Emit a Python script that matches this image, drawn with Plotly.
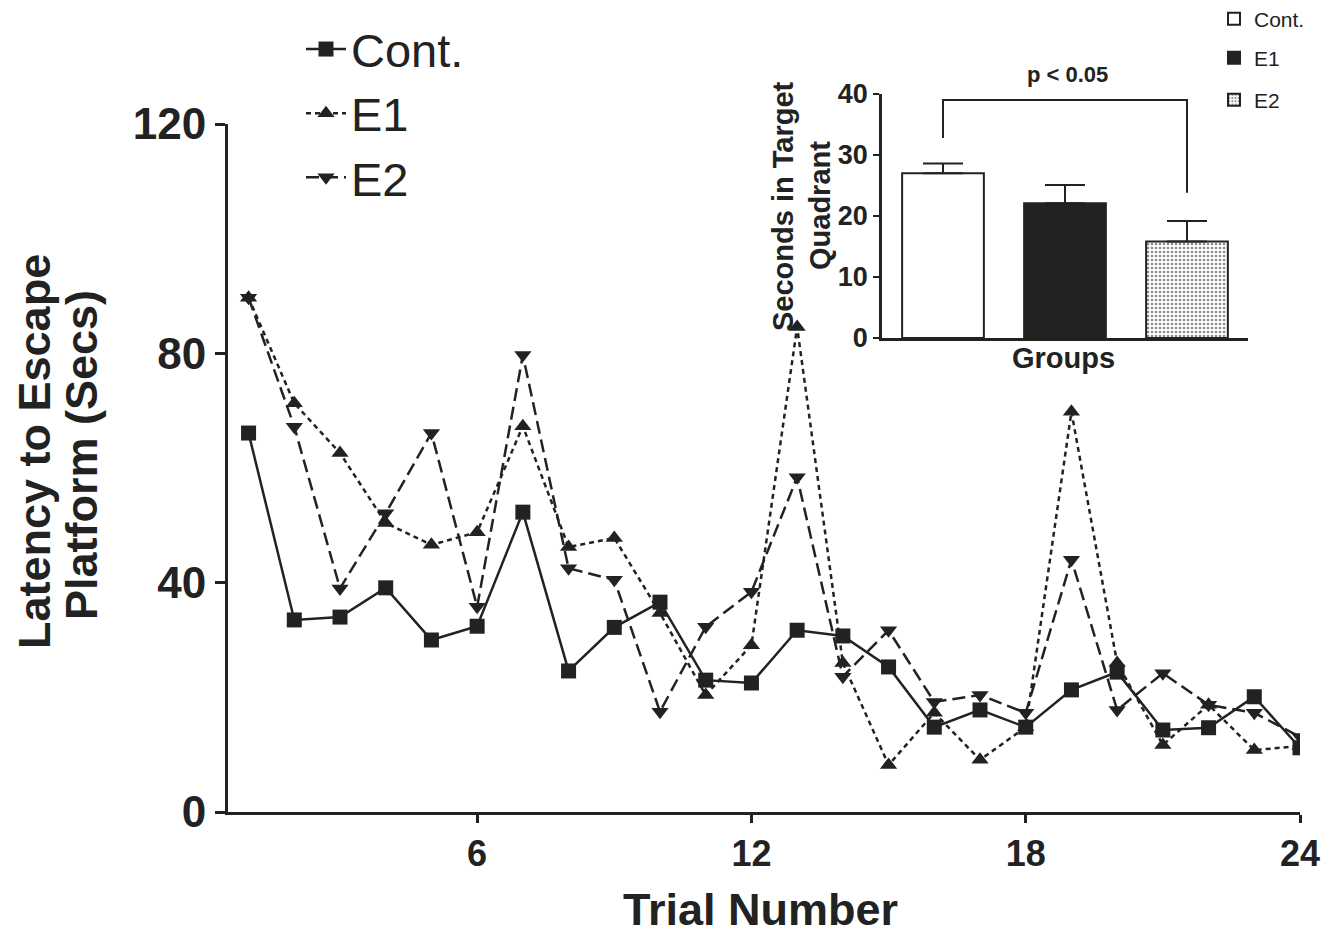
import plotly.graph_objects as go

# ---------------- data ----------------
trials = list(range(1, 25))
cont = [66.1, 33.5, 34.0, 39.1, 30.0, 32.4, 52.3, 24.6, 32.2, 36.6, 23.0, 22.5,
        31.7, 30.7, 25.3, 14.8, 17.8, 14.8, 21.3, 24.4, 14.3, 14.7, 20.1, 11.2]
e1 = [89.7, 71.3, 62.6, 50.4, 46.6, 48.8, 67.3, 46.2, 47.8, 34.7, 20.4, 29.1,
      84.6, 26.0, 8.2, 17.3, 9.1, 14.8, 69.8, 26.0, 11.7, 18.7, 10.8, 11.5]
e2 = [89.7, 67.2, 39.0, 52.1, 66.1, 35.8, 79.7, 42.5, 40.5, 17.5, 32.3, 38.4,
      58.4, 23.6, 31.7, 19.2, 20.4, 17.3, 44.0, 17.8, 24.2, 18.7, 17.3, 13.1]
series_names = ["Cont.", "E1", "E2"]
x_ticks = [6, 12, 18, 24]
y_ticks = [0, 40, 80, 120]

groups = ["Cont.", "E1", "E2"]
group_means = [27.0, 22.1, 15.8]
group_sem = [1.6, 3.0, 3.4]
inset_ticks = [0, 10, 20, 30, 40]
bracket_y = [32.8, 39.0, 39.0, 23.8]   # left end, top, top, right end
bracket_x = [groups[0], groups[0], groups[2], groups[2]]

# ---------------- helpers ----------------
OFF = 8                      # default page body margin
W, H = 1336 - OFF, 937 - OFF
INK = "#222222"
FONT = "Liberation Sans, Arial, sans-serif"


def fx(px):
    return (px - OFF) / W


def fy(py):
    return 1 - (py - OFF) / H


fig = go.Figure()

# main line traces
styles = [
    dict(symbol="square", dash="solid"),
    dict(symbol="triangle-up", dash="5px,4px"),
    dict(symbol="triangle-down", dash="13px,6px"),
]
for name, vals, st, grp in zip(series_names, [cont, e1, e2], styles, ["g1", "g2", "g3"]):
    fig.add_trace(go.Scatter(
        x=trials, y=vals, mode="lines+markers", name=name,
        line=dict(color=INK, width=2.5, dash=st["dash"]),
        marker=dict(symbol=st["symbol"], size=15, color=INK),
        legendgroup=grp, legend="legend", xaxis="x", yaxis="y",
    ))

# inset bars (each with its own small legend entry)
bar_markers = [
    dict(color="white", line=dict(color=INK, width=2)),
    dict(color=INK, line=dict(color=INK, width=2)),
    dict(color="white", line=dict(color=INK, width=2),
         pattern=dict(shape=".", fgcolor="#8a8a8a", bgcolor="white", size=4, solidity=0.35)),
]
bar_legends = ["legend2", "legend3", "legend4"]
for g, m, s, mk, lg in zip(groups, group_means, group_sem, bar_markers, bar_legends):
    fig.add_trace(go.Bar(
        x=[g], y=[m], width=0.67, name=g, marker=mk,
        error_y=dict(type="data", array=[s], arrayminus=[0], symmetric=False,
                     color=INK, thickness=2, width=20),
        xaxis="x2", yaxis="y2", legend=lg,
    ))

# significance bracket
fig.add_trace(go.Scatter(
    x=bracket_x, y=bracket_y, mode="lines", line=dict(color=INK, width=2),
    showlegend=False, hoverinfo="skip", xaxis="x2", yaxis="y2", cliponaxis=False,
))

small_legend = dict(xanchor="left", yanchor="middle", itemwidth=30,
                    font=dict(family=FONT, size=21, color=INK), bgcolor="rgba(0,0,0,0)")

fig.update_layout(
    template="none",
    width=W, height=H,
    margin=dict(l=0, r=0, t=0, b=0, pad=0, autoexpand=False),
    paper_bgcolor="white", plot_bgcolor="rgba(0,0,0,0)",
    showlegend=True,
    barmode="overlay",
    font=dict(family=FONT, color=INK),
    xaxis=dict(
        domain=[fx(228), fx(1300)], anchor="y", range=[0.55, 24], automargin=False,
        tickvals=x_ticks, ticks="outside", ticklen=8, tickwidth=3, tickcolor=INK,
        showline=True, linewidth=3, linecolor=INK, showgrid=False, zeroline=False,
        tickfont=dict(family=FONT, size=36, color=INK, weight="bold"),
    ),
    yaxis=dict(
        domain=[fy(812), fy(124)], anchor="x", range=[0, 120], automargin=False,
        tickvals=y_ticks, ticks="outside", ticklen=10, tickwidth=3, tickcolor=INK,
        showline=True, linewidth=3, linecolor=INK, showgrid=False, zeroline=False,
        tickfont=dict(family=FONT, size=44, color=INK, weight="bold"),
    ),
    xaxis2=dict(
        domain=[fx(882), fx(1248)], anchor="y2", range=[-0.5, 2.5], automargin=False,
        type="category", categoryorder="array", categoryarray=groups,
        showticklabels=False, ticks="",
        showline=True, linewidth=2.5, linecolor=INK, showgrid=False, zeroline=False,
    ),
    yaxis2=dict(
        domain=[fy(338), fy(94)], anchor="x2", range=[0, 40], automargin=False,
        tickvals=inset_ticks, ticks="outside", ticklen=6, tickwidth=2, tickcolor=INK,
        showline=True, linewidth=2.5, linecolor=INK, showgrid=False, zeroline=False,
        tickfont=dict(family=FONT, size=27, color=INK, weight="bold"),
    ),
    legend=dict(
        x=fx(301), y=fy(12), xanchor="left", yanchor="top",
        font=dict(family=FONT, size=47, color=INK), itemwidth=40,
        bgcolor="rgba(0,0,0,0)", tracegroupgap=11, traceorder="normal",
    ),
    legend2=dict(small_legend, x=fx(1214), y=fy(19)),
    legend3=dict(small_legend, x=fx(1214), y=fy(58)),
    legend4=dict(small_legend, x=fx(1214), y=fy(100)),
)

ann = [
    dict(text="Latency to Escape", x=fx(34), y=fy(452), textangle=-90,
         font=dict(size=45, weight="bold")),
    dict(text="Platform (Secs)", x=fx(81), y=fy(455), textangle=-90,
         font=dict(size=45, weight="bold")),
    dict(text="Trial Number", x=fx(760), y=fy(909), font=dict(size=45, weight="bold")),
    dict(text="Groups", x=fx(1063), y=fy(358), font=dict(size=29, weight="bold")),
    dict(text="p < 0.05", x=fx(1067), y=fy(75), font=dict(size=22, weight="bold")),
    dict(text="Seconds in Target", x=fx(783), y=fy(206), textangle=-90,
         font=dict(size=29, weight="bold")),
    dict(text="Quadrant", x=fx(820), y=fy(206), textangle=-90,
         font=dict(size=29, weight="bold")),
]
for a in ann:
    a.update(xref="paper", yref="paper", showarrow=False, xanchor="center", yanchor="middle")
    a["font"].update(family=FONT, color=INK)
fig.update_layout(annotations=ann)

fig.write_html("out.html")
